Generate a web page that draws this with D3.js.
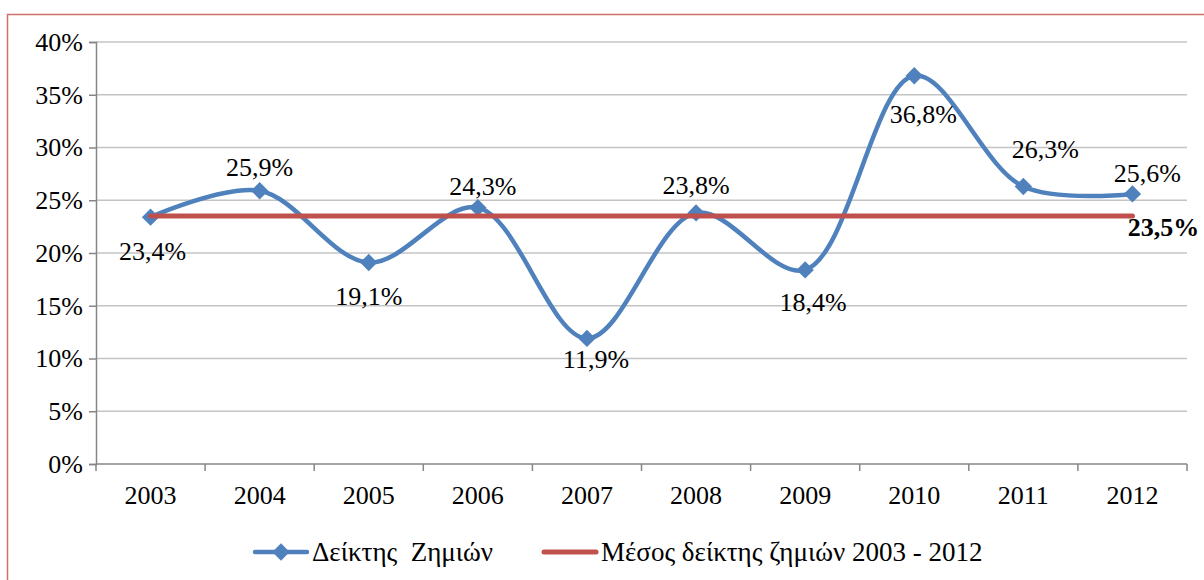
<!DOCTYPE html>
<html>
<head>
<meta charset="utf-8">
<script src="https://cdn.jsdelivr.net/npm/d3@7"></script>
<style>
  body { margin: 0; background: #fff; }
</style>
</head>
<body>
<div id="chart"></div>
<script>
// data
const years = ["2003", "2004", "2005", "2006", "2007", "2008", "2009", "2010", "2011", "2012"];
const lossIndex = [23.4, 25.9, 19.1, 24.3, 11.9, 23.8, 18.4, 36.8, 26.3, 25.6];
const meanIndex = 23.5;
const yTicks = [0, 5, 10, 15, 20, 25, 30, 35, 40];
const seriesNames = ["Δείκτης  Ζημιών", "Μέσος δείκτης ζημιών 2003 - 2012"];

const W = 1204, H = 580;
const FONT = "Liberation Serif";
const FS = 26;
const blue = "#4f81bd", red = "#c0504d";
const fmt = v => d3.format(".1f")(v).replace(".", ",") + "%";

const svg = d3.select("#chart").append("svg")
   .attr("width", W).attr("height", H)
   .attr("font-family", FONT);

// outer frame
svg.append("rect")
   .attr("x", 7.5).attr("y", 14.5).attr("width", W + 10).attr("height", H + 10)
   .attr("fill", "none").attr("stroke", "#d0706d").attr("stroke-width", 1.5);

const m = { left: 96, right: 1187, top: 42, bottom: 464 };

const x = d3.scaleBand().domain(years).range([m.left, m.right]);
const y = d3.scaleLinear().domain([0, 40]).range([m.bottom, m.top]);
const cx = d => x(d) + x.bandwidth() / 2;

// gridlines
svg.append("g").selectAll("line").data(yTicks.filter(t => t > 0)).join("line")
   .attr("x1", m.left).attr("x2", m.right)
   .attr("y1", d => y(d)).attr("y2", d => y(d))
   .attr("stroke", "#c4c4c4").attr("stroke-width", 1.5);

// y axis
const yAxis = svg.append("g").attr("transform", `translate(${m.left},0)`)
   .call(d3.axisLeft(y).tickValues(yTicks).tickFormat(d => d + "%").tickSize(7).tickPadding(6));
yAxis.attr("font-family", FONT).attr("font-size", FS);
yAxis.select(".domain").attr("stroke", "#868686").attr("stroke-width", 1.5);
yAxis.selectAll(".tick line").attr("stroke", "#868686").attr("stroke-width", 1.5);
yAxis.selectAll("text").attr("fill", "#000");

// x axis (ticks at category boundaries)
const xg = svg.append("g").attr("transform", `translate(0,${m.bottom})`);
xg.append("line").attr("x1", m.left).attr("x2", m.right)
  .attr("stroke", "#868686").attr("stroke-width", 1.5);
xg.selectAll(".xt").data(years.concat(["end"])).join("line")
  .attr("x1", (d, i) => m.left + i * x.bandwidth()).attr("x2", (d, i) => m.left + i * x.bandwidth())
  .attr("y1", 0).attr("y2", 7).attr("stroke", "#868686").attr("stroke-width", 1.5);
xg.selectAll("text").data(years).join("text")
  .attr("x", d => cx(d)).attr("y", 40).attr("text-anchor", "middle")
  .attr("font-family", FONT).attr("font-size", FS).text(d => d);

// smoothed series
const pts = years.map((yr, i) => ({ yr, v: lossIndex[i] }));
svg.append("path").datum(pts)
   .attr("d", d3.line().x(d => cx(d.yr)).y(d => y(d.v)).curve(d3.curveCatmullRom.alpha(0.5)))
   .attr("fill", "none").attr("stroke", blue).attr("stroke-width", 4.5).attr("stroke-linecap", "round");

const diamond = d3.symbol(d3.symbolSquare, 150);
svg.append("g").selectAll("path").data(pts).join("path")
   .attr("d", diamond)
   .attr("transform", d => `translate(${cx(d.yr)},${y(d.v)}) rotate(45)`)
   .attr("fill", blue);

// mean line
svg.append("line")
   .attr("x1", cx(years[0])).attr("x2", cx(years[years.length - 1]))
   .attr("y1", y(meanIndex)).attr("y2", y(meanIndex))
   .attr("stroke", red).attr("stroke-width", 5).attr("stroke-linecap", "round");

// data labels (offsets from each point, as placed in the original)
const labelOffsets = [[2, 43], [0, -15], [0, 43], [5, -13], [9, 30], [0, -19], [8, 41], [9, 47], [22, -29], [15, -12]];
svg.append("g").selectAll("text").data(pts).join("text")
   .attr("x", (d, i) => cx(d.yr) + labelOffsets[i][0])
   .attr("y", (d, i) => y(d.v) + labelOffsets[i][1])
   .attr("text-anchor", "middle")
   .attr("font-family", FONT).attr("font-size", FS).text(d => fmt(d.v));

svg.append("text")
   .attr("x", cx(years[years.length - 1]) + 31).attr("y", y(meanIndex) + 20)
   .attr("text-anchor", "middle")
   .attr("font-family", FONT).attr("font-size", FS).attr("font-weight", "bold")
   .text(fmt(meanIndex));

// legend
const lg = svg.append("g").attr("transform", "translate(0,552)");
lg.append("line").attr("x1", 255).attr("x2", 307).attr("stroke", blue).attr("stroke-width", 4.5).attr("stroke-linecap", "round");
lg.append("path").attr("d", diamond).attr("transform", "translate(281,0) rotate(45)").attr("fill", blue);
lg.append("text").attr("x", 312).attr("y", 9)
  .attr("font-family", FONT).attr("font-size", 27)
  .attr("xml:space", "preserve").style("white-space", "pre").text(seriesNames[0]);
lg.append("line").attr("x1", 544).attr("x2", 596).attr("stroke", red).attr("stroke-width", 5).attr("stroke-linecap", "round");
lg.append("text").attr("x", 601).attr("y", 9)
  .attr("font-family", FONT).attr("font-size", 27).text(seriesNames[1]);
</script>
</body>
</html>
